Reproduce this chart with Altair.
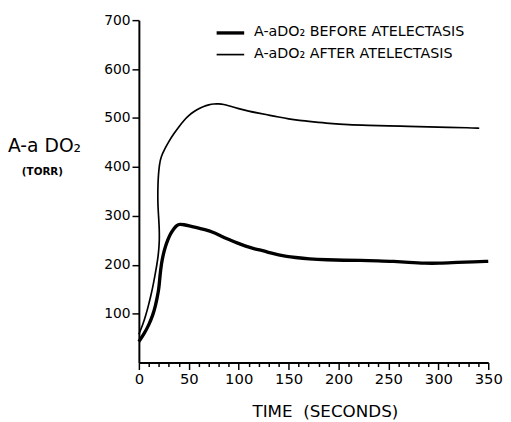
import altair as alt
import pandas as pd

# ---- data ----
before_t = [0, 5, 10, 14, 16.7, 18.5, 20, 21, 22.6, 24.5, 26.5, 29, 31.5, 35, 38, 41, 45, 50, 58, 66,
            74, 82, 91, 99, 107, 115, 124, 132, 140, 148, 156, 170, 189, 205, 222, 240, 255, 270,
            287, 300, 320, 335, 350]
before_v = [43, 58, 77, 97, 117, 135, 150, 175, 203, 222, 237, 251, 263, 274, 281, 283, 282, 280, 276, 272,
            267, 259, 251, 244, 238, 233, 229, 224, 220, 217, 215, 212, 210, 209, 209, 208, 207, 205,
            203, 203, 205, 206, 207]

after_t = [0, 4, 7, 10, 12, 14, 16, 18, 19.3, 20.3, 20.6, 20.3, 19.7, 19.1, 18.9, 19.1, 19.6, 20.6, 22,
           26, 30, 35, 40, 45, 50, 55, 60, 65, 70, 75, 80, 85, 90, 100, 110, 120, 130, 140, 150, 160,
           175, 190, 210, 230, 250, 270, 290, 310, 330, 341]
after_v = [58, 78, 97, 120, 137, 155, 177, 200, 217, 240, 257, 280, 300, 320, 340, 365, 385, 405, 420,
           437, 452, 468, 482, 495, 505, 513, 519, 524, 527, 529, 529, 528, 525, 519, 514, 510, 506, 502,
           498, 495, 492, 489, 486, 485, 484, 483, 482, 481, 480, 479]

x_ticks = list(range(0, 351, 10))
y_ticks = [100, 200, 300, 400, 500, 600, 700]

legend_labels = ["A-aDO₂ BEFORE ATELECTASIS", "A-aDO₂ AFTER ATELECTASIS"]

FONT = "DejaVu Sans"

before_df = pd.DataFrame({"t": before_t, "v": before_v, "i": range(len(before_t))})
after_df = pd.DataFrame({"t": after_t, "v": after_v, "i": range(len(after_t))})

xscale = alt.Scale(domain=[0, 350], nice=False, zero=False)
yscale = alt.Scale(domain=[0, 700], nice=False, zero=False)

xaxis = alt.Axis(
    values=x_ticks,
    labelExpr="datum.value % 50 === 0 ? datum.label : ''",
    tickSize={"condition": {"test": "datum.value % 50 === 0", "value": 7}, "value": 4},
    tickWidth=1.5,
    tickColor="black",
    domainColor="black",
    domainWidth=2,
    labelFont=FONT,
    labelFontSize=15,
    labelColor="black",
    labelPadding=2,
    labelFlush=False,
    labelOverlap=False,
    grid=False,
    title="TIME\u00a0\u00a0(SECONDS)",
    titleFont=FONT,
    titleFontSize=17,
    titleFontWeight="normal",
    titleColor="black",
    titleX=189,
    titleY=55,
    titleAlign="center",
    titleBaseline="alphabetic",
)
yaxis = alt.Axis(
    values=y_ticks,
    tickSize=7,
    tickWidth=1.5,
    tickColor="black",
    domainColor="black",
    domainWidth=2,
    labelFont=FONT,
    labelFontSize=14,
    labelColor="black",
    labelPadding=2,
    labelFlush=False,
    grid=False,
    title=None,
)

before_line = alt.Chart(before_df).mark_line(
    color="black", strokeWidth=3.4, interpolate="basis"
).encode(
    x=alt.X("t:Q", scale=xscale, axis=xaxis),
    y=alt.Y("v:Q", scale=yscale, axis=yaxis),
    order="i:Q",
)

after_line = alt.Chart(after_df).mark_line(
    color="black", strokeWidth=1.7, interpolate="basis"
).encode(
    x=alt.X("t:Q", scale=xscale, axis=xaxis),
    y=alt.Y("v:Q", scale=yscale, axis=yaxis),
    order="i:Q",
)

# legend
leg_line1 = alt.Chart(pd.DataFrame({"k": [0]})).mark_rule(color="black", strokeWidth=3.4).encode(
    x=alt.value(79), x2=alt.value(107), y=alt.value(13)
)
leg_line2 = alt.Chart(pd.DataFrame({"k": [0]})).mark_rule(color="black", strokeWidth=1.7).encode(
    x=alt.value(79), x2=alt.value(107), y=alt.value(35)
)
leg_text1 = alt.Chart(pd.DataFrame({"label": [legend_labels[0]]})).mark_text(
    font=FONT, fontSize=14.5, align="left", baseline="alphabetic", color="black"
).encode(x=alt.value(117), y=alt.value(16), text="label:N")
leg_text2 = alt.Chart(pd.DataFrame({"label": [legend_labels[1]]})).mark_text(
    font=FONT, fontSize=14.5, align="left", baseline="alphabetic", color="black"
).encode(x=alt.value(117), y=alt.value(38), text="label:N")

# y title (horizontal, two lines)
ytitle1 = alt.Chart(pd.DataFrame({"label": ["A-a DO₂"]})).mark_text(
    font=FONT, fontSize=19, align="left", baseline="alphabetic", color="black"
).encode(x=alt.value(-133), y=alt.value(134), text="label:N")
ytitle2 = alt.Chart(pd.DataFrame({"label": ["(TORR)"]})).mark_text(
    font=FONT, fontSize=10.5, fontWeight="bold", align="center", baseline="alphabetic", color="black"
).encode(x=alt.value(-98), y=alt.value(157), text="label:N")

chart = alt.layer(
    before_line, after_line, leg_line1, leg_line2, leg_text1, leg_text2, ytitle1, ytitle2
).properties(
    width=355,
    height=348,
    autosize=alt.AutoSizeParams(type="none"),
    padding={"left": 133, "top": 9, "right": 15, "bottom": 57},
    background="white",
).configure_view(stroke=None)

chart.save("out.html", embed_options={"renderer": "svg", "actions": False})
